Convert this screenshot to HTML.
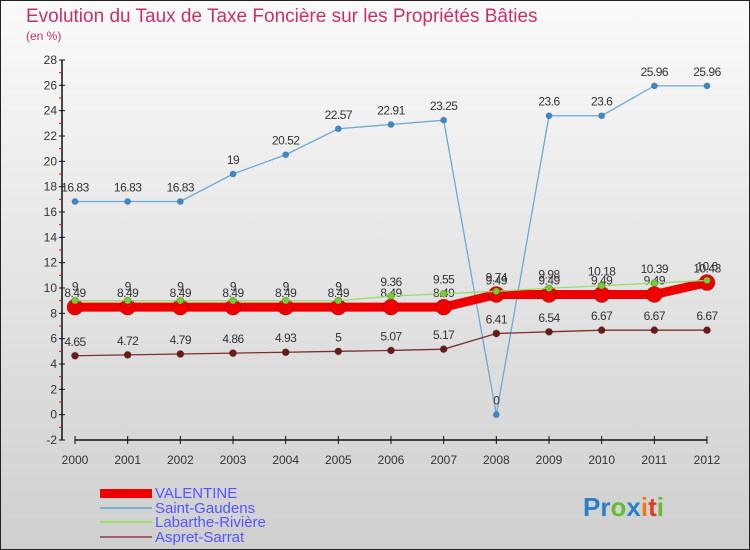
<!DOCTYPE html>
<html><head><meta charset="utf-8">
<style>
body{margin:0;padding:0;}
svg{display:block;font-family:"Liberation Sans",sans-serif;}
</style></head>
<body>
<svg id="chart" width="750" height="550" viewBox="0 0 750 550" xmlns="http://www.w3.org/2000/svg">
<defs>
<linearGradient id="bg" x1="0" y1="0" x2="0" y2="1">
<stop offset="0" stop-color="#fafafa"/><stop offset="1" stop-color="#cfcfcf"/>
</linearGradient>
</defs>
<rect x="0.5" y="0.5" width="749" height="549" fill="url(#bg)" stroke="#222"/>
<text x="26" y="22" font-size="19" fill="#c8306a">Evolution du Taux de Taxe Foncière sur les Propriétés Bâties</text>
<text x="26" y="40" font-size="12" fill="#c8306a">(en %)</text>
<g id="axes"></g>
<g id="series"></g>
<g id="legend">
<rect x="100" y="489" width="52" height="9" fill="#e00"/>
<text x="155" y="498" font-size="15" fill="#5555ff">VALENTINE</text>
<line x1="100" y1="508" x2="152" y2="508" stroke="#7aaed0" stroke-width="2"/>
<text x="155" y="513" font-size="15" fill="#5555ff">Saint-Gaudens</text>
<line x1="100" y1="522" x2="152" y2="522" stroke="#99dd66" stroke-width="2"/>
<text x="155" y="527" font-size="15" fill="#5555ff">Labarthe-Rivière</text>
<line x1="100" y1="537" x2="152" y2="537" stroke="#996666" stroke-width="2"/>
<text x="155" y="542" font-size="15" fill="#5555ff">Aspret-Sarrat</text>
</g>
<g font-size="26" font-weight="bold">
<text x="583" y="516"><tspan fill="#2a7fc8">Pr</tspan><tspan fill="#66bb33">o</tspan><tspan fill="#2a7fc8">x</tspan><tspan fill="#f07a1a">i</tspan><tspan fill="#e03a2a">t</tspan><tspan fill="#66bb33">i</tspan></text>
</g>
</svg>
<script>
const years=[2000,2001,2002,2003,2004,2005,2006,2007,2008,2009,2010,2011,2012];
const valentine=[8.49,8.49,8.49,8.49,8.49,8.49,8.49,8.49,9.49,9.49,9.49,9.49,10.43];
const saintGaudens=[16.83,16.83,16.83,19,20.52,22.57,22.91,23.25,0,23.6,23.6,25.96,25.96];
const labarthe=[9,9,9,9,9,9,9.36,9.55,9.74,9.98,10.18,10.39,10.6];
const aspret=[4.65,4.72,4.79,4.86,4.93,5,5.07,5.17,6.41,6.54,6.67,6.67,6.67];
const yTicks=[-2,0,2,4,6,8,10,12,14,16,18,20,22,24,26,28];

const NS="http://www.w3.org/2000/svg";
const X=i=>75+i*(707-75)/(years.length-1);
const Y=v=>440-(v+2)*(380/30);
function mk(tag,attrs,parent){const e=document.createElementNS(NS,tag);for(const k in attrs)e.setAttribute(k,attrs[k]);parent.appendChild(e);return e;}
const axes=document.getElementById('axes'),ser=document.getElementById('series');

let yl=mk('line',{x1:62,y1:60,x2:62,y2:440,stroke:'#111','stroke-width':1.5},axes);


let xl=mk('line',{x1:75,y1:440,x2:707,y2:440,stroke:'#111','stroke-width':1.5},axes);


yTicks.forEach(v=>{
 mk('line',{x1:59,x2:65,y1:Y(v),y2:Y(v),stroke:'#111'},axes);
 if(v<28) mk('line',{x1:59,x2:62,y1:Y(v+1),y2:Y(v+1),stroke:'#e00'},axes);
 const t=mk('text',{x:57,y:Y(v)+4,'font-size':12,fill:'#333','text-anchor':'end'},axes);
 t.textContent=v;
 
 
});
years.forEach((yr,i)=>{
 mk('line',{x1:X(i),x2:X(i),y1:436,y2:444,stroke:'#111'},axes);
 const t=mk('text',{x:X(i),y:464,'font-size':12,fill:'#333','text-anchor':'middle'},axes);
 t.textContent=yr;
 
 
});
function series(vals,color,w,r,dot,name){
 const g=mk('g',{},ser);
 
 
 const p=mk('polyline',{points:vals.map((v,i)=>X(i)+','+Y(v)).join(' '),fill:'none',stroke:color,'stroke-width':w},g);
 
 
 vals.forEach((v,i)=>{
  const c=mk('circle',{cx:X(i),cy:Y(v),r:r,fill:dot,stroke:'rgba(0,0,0,0.2)'},g);
  
  
  const t=mk('text',{x:X(i),y:Y(v)-10,'font-size':12,fill:'#333','text-anchor':'middle','letter-spacing':'-0.5'},g);
  t.textContent=v;
  
  
 });
}
series(saintGaudens,'#6aaad8',1.3,3,'#3a8ad0','saint-gaudens');
series(aspret,'#7a3030',1.3,3.5,'#6a1a1a','aspret-sarrat');
series(valentine,'#e00',9,8,'#e00','valentine');
series(labarthe,'#99dd66',1.3,3.5,'#77cc33','labarthe-riviere');
</script>
</body></html>
